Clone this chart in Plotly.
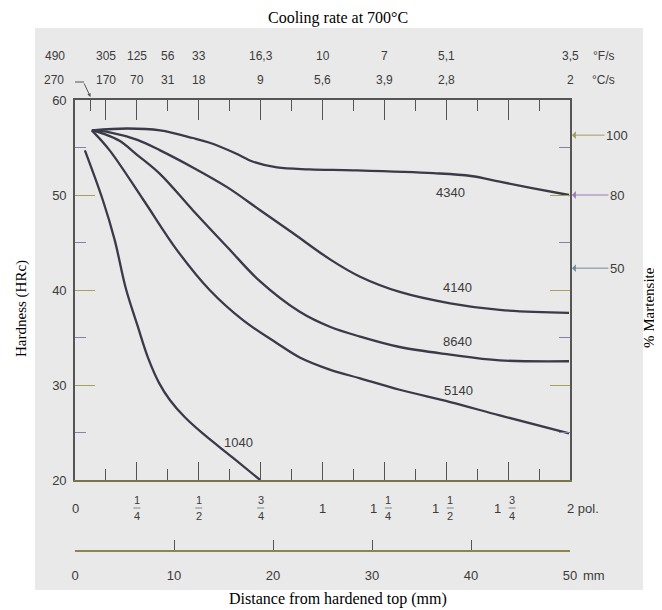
import plotly.graph_objects as go

# ---------------- data ----------------
# distance in mm along the drawn scale, hardness in HRc
d1040 = [1.0, 2.8, 4.0, 5.15, 6.3, 7.4, 8.5, 9.6, 11.1, 12.9, 16.0, 18.7]
h1040 = [54.7, 49.5, 45.3, 40.1, 36.3, 32.8, 30.2, 28.4, 26.6, 24.9, 22.3, 20.0]
d5140 = [1.7, 3.5, 6.9, 10.3, 13.6, 17.0, 20.4, 22.7, 25.8, 28.8, 32.8, 37.9, 42.9, 49.9]
h5140 = [56.8, 54.7, 49.5, 44.2, 40.0, 36.8, 34.4, 32.9, 31.6, 30.7, 29.5, 28.2, 26.8, 24.9]
d8640 = [1.7, 3.0, 4.5, 6.3, 8.6, 11.9, 15.4, 18.7, 22.7, 25.8, 28.8, 32.8, 37.9, 42.9, 49.9]
h8640 = [56.8, 56.4, 55.7, 54.2, 52.2, 48.4, 44.5, 40.9, 37.7, 36.1, 35.1, 34.0, 33.2, 32.6, 32.5]
d4140 = [1.7, 3.5, 6.3, 8.6, 11.9, 15.4, 18.7, 22.0, 25.8, 28.8, 32.8, 37.9, 42.9, 49.9]
h4140 = [56.8, 56.6, 55.8, 54.7, 52.9, 50.8, 48.4, 46.0, 43.2, 41.4, 39.8, 38.6, 37.9, 37.6]
d4340 = [1.7, 5.3, 8.6, 11.9, 13.6, 16.2, 18.0, 20.4, 23.7, 28.1, 36.2, 40.0, 42.9, 46.3, 49.9]
h4340 = [56.8, 57.0, 56.8, 56.0, 55.5, 54.4, 53.5, 52.9, 52.7, 52.6, 52.3, 52.0, 51.4, 50.7, 50.0]

steel_names = ["4340", "4140", "8640", "5140", "1040"]
steel_label_x = [37.9, 38.6, 38.6, 38.7, 16.5]
steel_label_y = [50.3, 40.3, 34.6, 29.4, 24.0]

# cooling rate at 700 C (top scale), positions in inches
rate_pos_in = [1/16, 1/8, 1/4, 3/8, 1/2, 3/4, 1, 1.25, 1.5, 2]
rate_F = ["490", "305", "125", "56", "33", "16,3", "10", "7", "5,1", "3,5"]
rate_C = ["270", "170", "70", "31", "18", "9", "5,6", "3,9", "2,8", "2"]

# inch scale (bottom)
inch_pos = [0, 0.25, 0.5, 0.75, 1, 1.25, 1.5, 1.75, 2]
inch_whole = ["0", "", "", "", "1", "1", "1", "1", "2 pol."]
inch_num = ["", "1", "1", "3", "", "1", "1", "3", ""]
inch_den = ["", "4", "2", "4", "", "4", "2", "4", ""]

# mm scale
mm_ticks = [0, 10, 20, 30, 40, 50]
mm_text = ["0", "10", "20", "30", "40", "50"]

# % martensite markers
mart_pct = ["100", "80", "50"]
mart_hrc = [56.3, 50.0, 42.3]
mart_col = ["#a39a62", "#9a7ab8", "#6f8f98"]

hrc_ticks = [20, 30, 40, 50, 60]
hrc_minor = [25, 35, 45, 55]

# ---------------- layout helpers ----------------
PAGE_OFF = 8                          # browser default body margin
W, H = 662 - PAGE_OFF, 610 - PAGE_OFF
L, R, T, B = 75, 570, 100, 551        # plot box in page pixels; main axis bottom at 480
AX_BOTTOM = 480
IN2X = 25.0                           # 1 inch on the drawn scale = 25 units of the mm axis


def pxx(px):
    return (px - L) / (R - L)


def pxy(py):
    return (B - py) / (B - T)


XPX = 50.0 / (R - L)   # data units per pixel

SANS = "Liberation Sans, Arial, sans-serif"
SERIF = "Liberation Serif, Times New Roman, serif"
TXT = "#3b3b3b"
CURVE = "#3a3a48"
BG = "#e9e9e9"

fig = go.Figure()

for d, h in [(d1040, h1040), (d5140, h5140), (d8640, h8640), (d4140, h4140), (d4340, h4340)]:
    fig.add_trace(go.Scatter(x=d, y=h, mode="lines",
                             line=dict(color=CURVE, width=2.3, shape="spline", smoothing=1.0),
                             hoverinfo="skip", showlegend=False))

# dummy traces to attach the top and mm axes
fig.add_trace(go.Scatter(x=[0, 50], y=[20, 20], xaxis="x2", mode="markers",
                         marker=dict(opacity=0), hoverinfo="skip", showlegend=False))
fig.add_trace(go.Scatter(x=[0, 50], y=[20, 20], xaxis="x3", mode="markers",
                         marker=dict(opacity=0), hoverinfo="skip", showlegend=False))

long_bottom = [p * IN2X for p in [0.25, 0.5, 0.75, 1, 1.25, 1.5, 1.75]]
short_bottom = [p * IN2X for p in [1/8, 3/8, 5/8, 7/8, 9/8, 11/8, 13/8, 15/8]]
long_top = [p * IN2X for p in [1/8, 0.25, 0.5, 0.75, 1, 1.25, 1.5, 1.75]]
short_top = [p * IN2X for p in [1/16, 3/8, 5/8, 7/8, 9/8, 11/8, 13/8, 15/8]]

ydom0 = (B - AX_BOTTOM) / (B - T)

fig.update_layout(
    width=W, height=H,
    margin=dict(l=L - PAGE_OFF, r=W - (R - PAGE_OFF), t=T - PAGE_OFF, b=H - (B - PAGE_OFF), pad=0),
    paper_bgcolor="white", plot_bgcolor=BG,
    showlegend=False,
    xaxis=dict(range=[0, 50], showgrid=False, zeroline=False, showline=True,
               linecolor="#7a7548", linewidth=1.6,
               ticks="inside", tickmode="array", tickvals=long_bottom, ticklen=18,
               tickcolor="#555555", tickwidth=1.2, showticklabels=False,
               minor=dict(tickmode="array", tickvals=short_bottom, ticks="inside",
                          ticklen=11, tickcolor="#555555", tickwidth=1.2),
               anchor="y"),
    xaxis2=dict(range=[0, 50], overlaying="x", side="top", anchor="y",
                showgrid=False, zeroline=False, showline=True,
                linecolor="#555555", linewidth=1.6,
                ticks="inside", tickmode="array", tickvals=long_top, ticklen=20,
                tickcolor="#555555", tickwidth=1.2, showticklabels=False,
                minor=dict(tickmode="array", tickvals=short_top, ticks="inside",
                           ticklen=11, tickcolor="#555555", tickwidth=1.2)),
    xaxis3=dict(range=[0, 50], overlaying="x", side="bottom", anchor="free", position=0,
                showgrid=False, zeroline=False, showline=True,
                linecolor="#8a8650", linewidth=1.6,
                ticks="inside", tickmode="array", tickvals=mm_ticks, ticktext=mm_text,
                ticklen=10, tickcolor="#555555", tickwidth=1.2,
                tickfont=dict(family=SANS, size=13, color=TXT), ticklabelstandoff=13),
    yaxis=dict(range=[20, 60], domain=[ydom0, 1], showgrid=False, zeroline=False,
               showline=True, linecolor="#555555", linewidth=1.6, mirror="ticks",
               ticks="inside", tickmode="array", tickvals=hrc_ticks, ticklen=20,
               tickcolor="#a3a25c", tickwidth=1.3,
               tickfont=dict(family=SANS, size=13, color=TXT), ticklabelstandoff=4,
               minor=dict(tickmode="array", tickvals=hrc_minor, ticks="inside",
                          ticklen=11, tickcolor="#8580b0", tickwidth=1.3)),
)

shapes = []
# scanned grey background
shapes.append(dict(type="rect", xref="paper", yref="paper", layer="below",
                   x0=pxx(35), x1=pxx(643), y0=pxy(590), y1=pxy(28),
                   fillcolor=BG, line=dict(width=0)))
# fraction bars on inch scale
for p, n in zip(inch_pos, inch_num):
    if n:
        xs = p * IN2X + (4 * XPX if p > 1 else 0)
        shapes.append(dict(type="line", xref="x", yref="paper",
                           x0=xs - 3.5 * XPX, x1=xs + 3.5 * XPX,
                           y0=pxy(508), y1=pxy(508),
                           line=dict(color="#7d8a8a", width=1)))
# small hooked line from the 270 label
shapes.append(dict(type="line", xref="paper", yref="paper",
                   x0=pxx(75), x1=pxx(84), y0=pxy(82), y1=pxy(82),
                   line=dict(color="#555555", width=1)))
fig.update_layout(shapes=shapes)

ann = []


def label(text, x, y, xref="paper", yref="paper", size=12, family=SANS, color=TXT, **kw):
    d = dict(text=text, x=x, y=y, xref=xref, yref=yref, showarrow=False,
             xanchor="center", yanchor="middle",
             font=dict(family=family, size=size, color=color))
    d.update(kw)
    ann.append(d)


# titles
label("Cooling rate at 700°C", pxx(338), pxy(18), size=16, family=SERIF, color="black")
label("Distance from hardened top (mm)", pxx(338), pxy(599), size=16, family=SERIF, color="black")
label("Hardness (HRc)", pxx(21), pxy(309), size=15, family=SERIF, color="black", textangle=-90)
label("% Martensite", pxx(649), pxy(308), size=15, family=SERIF, color="black", textangle=-90)

# cooling-rate labels
for i, (p, f, c) in enumerate(zip(rate_pos_in, rate_F, rate_C)):
    if i == 0:
        label(f, pxx(55), pxy(56))
        label(c, pxx(54), pxy(80))
        ann.append(dict(text="", xref="x", yref="paper", x=p * IN2X, y=pxy(97),
                        axref="pixel", ayref="pixel", ax=-7, ay=-15,
                        showarrow=True, arrowhead=2, arrowsize=0.7, arrowwidth=1,
                        arrowcolor="#555555", standoff=0))
    else:
        label(f, p * IN2X, pxy(56), xref="x")
        label(c, p * IN2X, pxy(80), xref="x")
label("°F/s", pxx(603), pxy(56))
label("°C/s", pxx(603), pxy(80))

# inch scale labels
for p, w, n, d in zip(inch_pos, inch_whole, inch_num, inch_den):
    xs = p * IN2X
    if w:
        shift = 0
        if n:
            shift = -11
        if w.startswith("2"):
            shift = 13
        label(w, xs, pxy(508), xref="x", size=13, xshift=shift)
    if n:
        fs = 4 if w else 0
        label(n, xs, pxy(500), xref="x", size=11, xshift=fs)
        label(d, xs, pxy(516), xref="x", size=11, xshift=fs)

# "mm" unit on the mm scale
label("mm", 50, pxy(575), xref="x", size=13, xanchor="left", xshift=11)

# steel labels
for nme, lx, ly in zip(steel_names, steel_label_x, steel_label_y):
    label(nme, lx, ly, xref="x", yref="y", size=13)

# % martensite arrows
for t, yv, col in zip(mart_pct, mart_hrc, mart_col):
    ann.append(dict(text=t, x=50, y=yv, xref="x", yref="y", showarrow=True,
                    ax=47, ay=0, arrowhead=1, arrowsize=1.3, arrowwidth=1,
                    arrowcolor=col, standoff=2,
                    font=dict(family=SANS, size=13, color=TXT)))

fig.update_layout(annotations=ann)

fig.write_html("out.html")
